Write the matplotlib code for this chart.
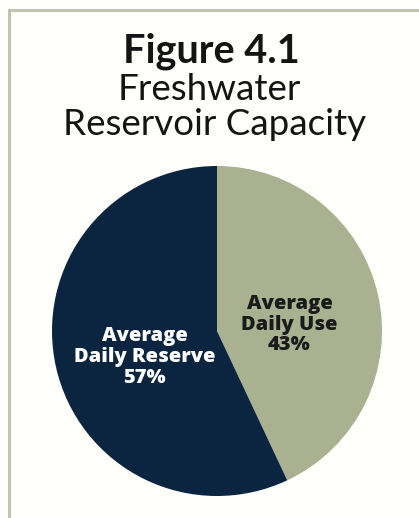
import numpy as np
import matplotlib
matplotlib.use('Agg')
from matplotlib import pyplot as plt
from matplotlib.lines import Line2D

# Reservoir capacity split
labels = ['Average\nDaily Use', 'Average\nDaily Reserve']
shares = [43, 57]
colors = ['#a9b190', '#0b2541']
text_colors = ['#1a1a1a', '#ffffff']

W, H = 419, 518
fig = plt.figure(figsize=(W / 100, H / 100), dpi=100, facecolor='#fffffb')

def fx(px):
    return px / W

def fy(py):
    return 1 - py / H

# thin frame on the top and left edges
frame = '#c2c4b0'
fig.add_artist(Line2D([fx(9), 1], [fy(10), fy(10)], color=frame, lw=2.2,
                      transform=fig.transFigure))
fig.add_artist(Line2D([fx(9), fx(9)], [fy(10), 0], color=frame, lw=2.2,
                      transform=fig.transFigure))

# title block
fig.text(fx(211), fy(63), 'Figure 4.1', ha='center', va='baseline',
         fontsize=28.5, fontweight='bold', family='Lato', color='#141414')
fig.text(fx(209), fy(100), 'Freshwater', ha='center', va='baseline',
         fontsize=26.5, family='Lato', color='#141414')
fig.text(fx(215), fy(135), 'Reservoir Capacity', ha='center', va='baseline',
         fontsize=26.5, family='Lato', color='#141414')

# pie
cx, cy, r = 217, 331, 165
ax = fig.add_axes([fx(cx - r), fy(cy + r), 2 * r / W, 2 * r / H])
wedges, _ = ax.pie(shares, colors=colors, startangle=90, counterclock=False,
                   wedgeprops=dict(linewidth=0))
ax.set_xlim(-1, 1)
ax.set_ylim(-1, 1)
ax.set_aspect('auto')
ax.axis('off')

for w, lab, val, tc in zip(wedges, labels, shares, text_colors):
    mid = np.deg2rad((w.theta1 + w.theta2) / 2)
    ax.text(0.45 * np.cos(mid), 0.45 * np.sin(mid) - 0.06,
            f'{lab}\n{val}%', ha='center', va='center', fontsize=14.5,
            fontweight='heavy', family='Open Sans', color=tc, linespacing=1.05)

fig.savefig('out.png', dpi=100, facecolor=fig.get_facecolor())
